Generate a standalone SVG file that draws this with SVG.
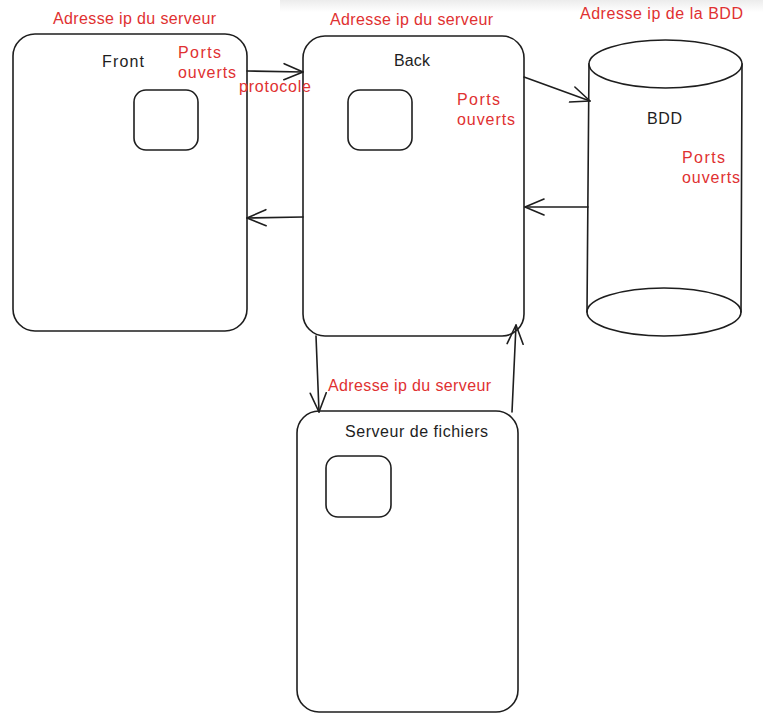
<svg xmlns="http://www.w3.org/2000/svg" width="763" height="727" viewBox="0 0 763 727">
<style>
.box{fill:#ffffff;stroke:#1e1e1e;stroke-width:1.6}
.ln{fill:none;stroke:#1e1e1e;stroke-width:1.6;stroke-linecap:round}
.red{fill:#e03131;font-family:"Liberation Sans",Arial,sans-serif;font-size:16px}
.blk{fill:#1e1e1e;font-family:"Liberation Sans",Arial,sans-serif;font-size:16px}
</style>
<defs>
<marker id="ah" markerUnits="userSpaceOnUse" markerWidth="24" markerHeight="24" refX="20" refY="12" orient="auto" viewBox="0 0 24 24">
<path d="M1,4 L20,12 L1,20" fill="none" stroke="#1e1e1e" stroke-width="1.6" stroke-linecap="round" stroke-linejoin="round"/>
</marker>
<linearGradient id="sh" x1="0" y1="0" x2="0" y2="1">
<stop offset="0" stop-color="#ececec"/>
<stop offset="1" stop-color="#ffffff"/>
</linearGradient>
</defs>
<rect x="0" y="0" width="763" height="727" fill="#ffffff"/>
<rect x="280" y="0" width="483" height="12" fill="url(#sh)"/>

<g id="front">
<rect class="box" x="13" y="34" width="234" height="297" rx="22"/>
<rect class="box" x="134" y="90" width="64" height="60" rx="12"/>
<text class="blk" x="102" y="67" textLength="42" lengthAdjust="spacing">Front</text>
<text class="red" x="178" y="58" textLength="43" lengthAdjust="spacing">Ports</text>
<text class="red" x="178" y="78" textLength="58" lengthAdjust="spacing">ouverts</text>
<text class="red" x="53" y="24" textLength="163" lengthAdjust="spacing">Adresse ip du serveur</text>
</g>

<g id="back">
<rect class="box" x="303" y="36" width="221" height="300" rx="22"/>
<rect class="box" x="348" y="90" width="64" height="60" rx="12"/>
<text class="blk" x="394" y="66" textLength="36" lengthAdjust="spacing">Back</text>
<text class="red" x="457" y="105" textLength="43" lengthAdjust="spacing">Ports</text>
<text class="red" x="457" y="125" textLength="58" lengthAdjust="spacing">ouverts</text>
<text class="red" x="330" y="25" textLength="163" lengthAdjust="spacing">Adresse ip du serveur</text>
</g>

<g id="bdd">
<path class="box" d="M589,64 L587,312 A77,24 0 0 0 741,312 L742,64 Z"/>
<ellipse class="box" cx="665.5" cy="64" rx="76.5" ry="24"/>
<path class="ln" d="M587,312 A77,24 0 0 1 741,312"/>
<text class="blk" x="647" y="124" textLength="35" lengthAdjust="spacing">BDD</text>
<text class="red" x="682" y="163" textLength="43" lengthAdjust="spacing">Ports</text>
<text class="red" x="682" y="183" textLength="58" lengthAdjust="spacing">ouverts</text>
<text class="red" x="580" y="19" textLength="163" lengthAdjust="spacing">Adresse ip de la BDD</text>
</g>

<g id="fichiers">
<rect class="box" x="297" y="411" width="221" height="301" rx="22"/>
<rect class="box" x="326" y="456" width="65" height="61" rx="12"/>
<text class="blk" x="345" y="437" textLength="143" lengthAdjust="spacing">Serveur de fichiers</text>
<text class="red" x="328" y="391" textLength="163" lengthAdjust="spacing">Adresse ip du serveur</text>
</g>

<g id="connectors">
<line class="ln" x1="247" y1="71" x2="303" y2="72" marker-end="url(#ah)"/>
<text class="red" x="239" y="92" textLength="72" lengthAdjust="spacing">protocole</text>
<line class="ln" x1="303" y1="217" x2="247" y2="218" marker-end="url(#ah)"/>
<line class="ln" x1="524" y1="77" x2="590" y2="101" marker-end="url(#ah)"/>
<line class="ln" x1="588" y1="207" x2="525" y2="207" marker-end="url(#ah)"/>
<line class="ln" x1="316" y1="336" x2="319" y2="412" marker-end="url(#ah)"/>
<line class="ln" x1="512" y1="412" x2="516" y2="325" marker-end="url(#ah)"/>
</g>
</svg>
